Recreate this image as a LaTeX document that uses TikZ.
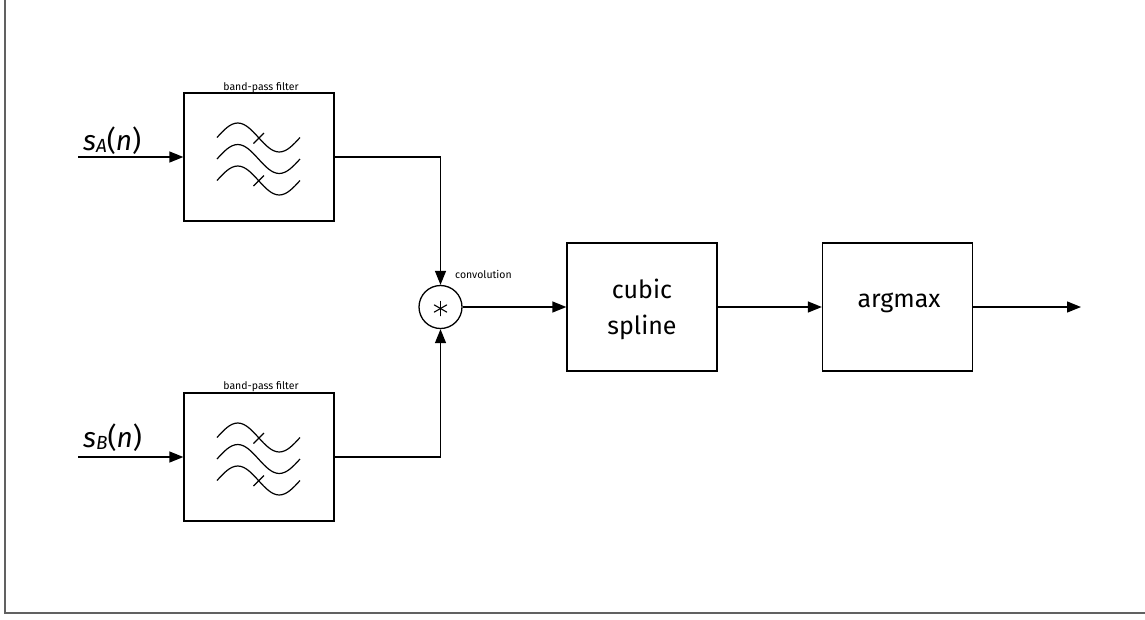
\documentclass[tikz,border=0pt]{standalone}
\usepackage{fontspec}
\setmainfont{Fira Sans}
\usetikzlibrary{arrows.meta,calc}
\tikzset{
  block/.style={draw, line width=1.3pt, minimum width=150pt, minimum height=128pt, inner sep=0pt},
  conn/.style={line width=1.3pt, -{Triangle[length=14pt,width=11pt]}},
  wire/.style={line width=1.3pt},
  smalllabel/.style={font=\fontsize{10.5}{12}\selectfont, inner sep=0pt, anchor=base},
  bigtext/.style={font=\fontsize{25}{36}\selectfont, inner sep=0pt},
  siglabel/.style={inner sep=0pt, anchor=base west},
  wave/.style={line width=1.2pt},
  spoke/.style={line width=1.1pt, line cap=round},
  framel/.style={draw=black!62, line width=1.4pt}
}
\newcommand{\siglbl}[1]{{\fontsize{28}{30}\selectfont\itshape s}\raisebox{-2.5pt}{\fontsize{19}{20}\selectfont\itshape #1}{\fontsize{28}{30}\selectfont(\textit{n})}}
\newcommand{\bpsymbol}[1]{%
  \begin{scope}[shift={(#1)}]
    \foreach \yy in {-19.5,2,23.5}{
      \draw[wave] (-42,\yy) sin (-21.25,\yy-14.5) cos (-0.5,\yy) sin (20.25,\yy+14.5) cos (41,\yy);
    }
    \draw[wave] (-5.5,-13.5) -- (5,-24);
    \draw[wave] (-5.5,29) -- (5,18.5);
  \end{scope}}
\begin{document}
\begin{tikzpicture}[x=1pt,y=-1pt]
\useasboundingbox (0,0) rectangle (1145,619);
\draw[framel] (5,0) -- (5,613) -- (1145,613);

\node[block] (bpfA) at (259,157) {};
\node[block] (bpfB) at (259,457) {};
\node[draw, circle, line width=1.3pt, minimum size=43pt, inner sep=0pt] (conv) at (440.5,307) {};
\node[block] (spline) at (642,307) {};
\node[block] (argmax) at (897.5,307) {};

\bpsymbol{259,157}
\bpsymbol{259,457}

\node[smalllabel] (lblA) at (261,90.5) {band-pass filter};
\node[smalllabel] (lblB) at (261,389.5) {band-pass filter};
\node[smalllabel, anchor=base west] (lblC) at (455,278) {convolution};
\coordinate (ast) at (440.5,308.5);
\foreach \a in {90,30,-30}{
  \draw[spoke] ($(ast)+(\a:7.2)$) -- ($(ast)+(\a+180:7.2)$);
}

\node[bigtext, align=center, anchor=base] (t1) at (642,298) {cubic};
\node[bigtext, align=center, anchor=base] (t2) at (642,334) {spline};
\node[bigtext, anchor=base] (t3) at (899,307) {argmax};

\coordinate (inA) at (78,157);
\coordinate (inB) at (78,457);
\coordinate (outp) at (1081,307);
\node[siglabel] (sA) at (83,150) {\siglbl{A}};
\node[siglabel] (sB) at (83,447) {\siglbl{B}};

\draw[conn] (inA) -- (bpfA.west);
\draw[conn] (inB) -- (bpfB.west);
\draw[conn] (bpfA.east) -| (conv.north);
\draw[conn] (bpfB.east) -| (conv.south);
\draw[conn] (conv.east) -- (spline.west);
\draw[conn] (spline.east) -- (argmax.west);
\draw[conn] (argmax.east) -- (outp);
\end{tikzpicture}
\end{document}
